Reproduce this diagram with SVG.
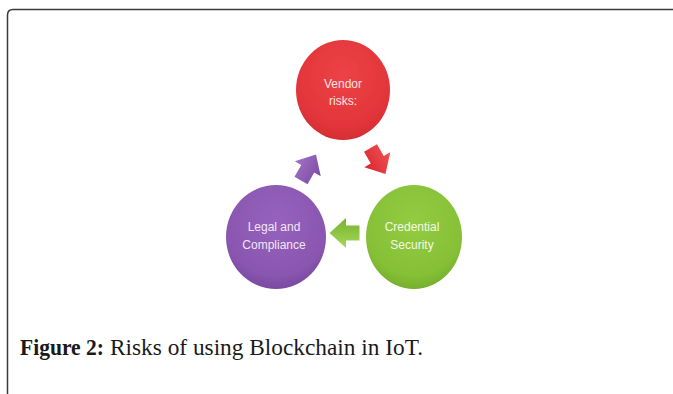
<svg xmlns="http://www.w3.org/2000/svg" width="673" height="394" viewBox="0 0 673 394">
  <style>
    .label { font-family: "Liberation Sans", Arial, sans-serif; font-size: 12px; text-anchor: middle; }
    .caption { font-family: "Liberation Serif", "Times New Roman", serif; font-size: 22.5px; fill: #1a1a1a; }
    .frame { fill: none; stroke: #3a3a3a; stroke-width: 1.5; }
  </style>
  <defs>
    <radialGradient id="gRed" cx="50%" cy="35%" r="65%">
      <stop offset="0" stop-color="#ec4346"/>
      <stop offset="0.8" stop-color="#e2353a"/>
      <stop offset="1" stop-color="#d42e33"/>
    </radialGradient>
    <radialGradient id="gPurple" cx="50%" cy="35%" r="65%">
      <stop offset="0" stop-color="#9662bd"/>
      <stop offset="0.8" stop-color="#8a56b0"/>
      <stop offset="1" stop-color="#7a4aa0"/>
    </radialGradient>
    <radialGradient id="gGreen" cx="50%" cy="35%" r="65%">
      <stop offset="0" stop-color="#93cc43"/>
      <stop offset="0.8" stop-color="#86c036"/>
      <stop offset="1" stop-color="#76b02c"/>
    </radialGradient>
    <linearGradient id="aRed" x1="0" y1="0" x2="0" y2="1">
      <stop offset="0" stop-color="#f15055"/>
      <stop offset="1" stop-color="#d8282d"/>
    </linearGradient>
    <linearGradient id="aPurple" x1="0" y1="0" x2="0" y2="1">
      <stop offset="0" stop-color="#a071c6"/>
      <stop offset="1" stop-color="#7d4ba3"/>
    </linearGradient>
    <linearGradient id="aGreen" x1="0" y1="0" x2="0" y2="1">
      <stop offset="0" stop-color="#a3d95a"/>
      <stop offset="1" stop-color="#78b22c"/>
    </linearGradient>
    <filter id="soft" x="-20%" y="-20%" width="140%" height="140%">
      <feGaussianBlur stdDeviation="0.6"/>
    </filter>
    <!-- block arrow pointing along +x, centred on the origin -->
    <polygon id="blockArrow" points="-15,-7.5 -1.5,-7.5 -1.5,-15 15,0 -1.5,15 -1.5,7.5 -15,7.5"/>
  </defs>

  <rect width="673" height="394" fill="#ffffff"/>

  <!-- figure frame, open to the right and bottom -->
  <path class="frame" d="M7.5,394 V15 Q7.5,9.5 13,9.5 H673"/>

  <!-- connectors -->
  <g id="connectors" filter="url(#soft)">
    <use href="#blockArrow" fill="url(#aRed)" transform="translate(378,161) rotate(60)"/>
    <use href="#blockArrow" fill="url(#aGreen)" transform="translate(344.5,233) rotate(180)"/>
    <use href="#blockArrow" fill="url(#aPurple)" transform="translate(308.5,167.5) rotate(-60)"/>
  </g>

  <g id="vendor-risks">
    <ellipse cx="343" cy="90" rx="47" ry="50" fill="url(#gRed)" filter="url(#soft)"/>
    <text class="label" x="343" y="88" fill="#fbe3e3">Vendor</text>
    <text class="label" x="343" y="105" fill="#fbe3e3">risks:</text>
  </g>

  <g id="legal-compliance">
    <ellipse cx="276" cy="237" rx="50" ry="52" fill="url(#gPurple)" filter="url(#soft)"/>
    <text class="label" x="274" y="231" fill="#f1e6f6">Legal and</text>
    <text class="label" x="274" y="249" fill="#f1e6f6">Compliance</text>
  </g>

  <g id="credential-security">
    <ellipse cx="414" cy="237" rx="48" ry="52" fill="url(#gGreen)" filter="url(#soft)"/>
    <text class="label" x="412" y="231" fill="#f3f8e6">Credential</text>
    <text class="label" x="412" y="249" fill="#f3f8e6">Security</text>
  </g>

  <text class="caption" x="20" y="355"><tspan font-weight="bold" textLength="84" lengthAdjust="spacingAndGlyphs">Figure 2:</tspan><tspan x="110" textLength="313" lengthAdjust="spacingAndGlyphs">Risks of using Blockchain in IoT.</tspan></text>
</svg>
